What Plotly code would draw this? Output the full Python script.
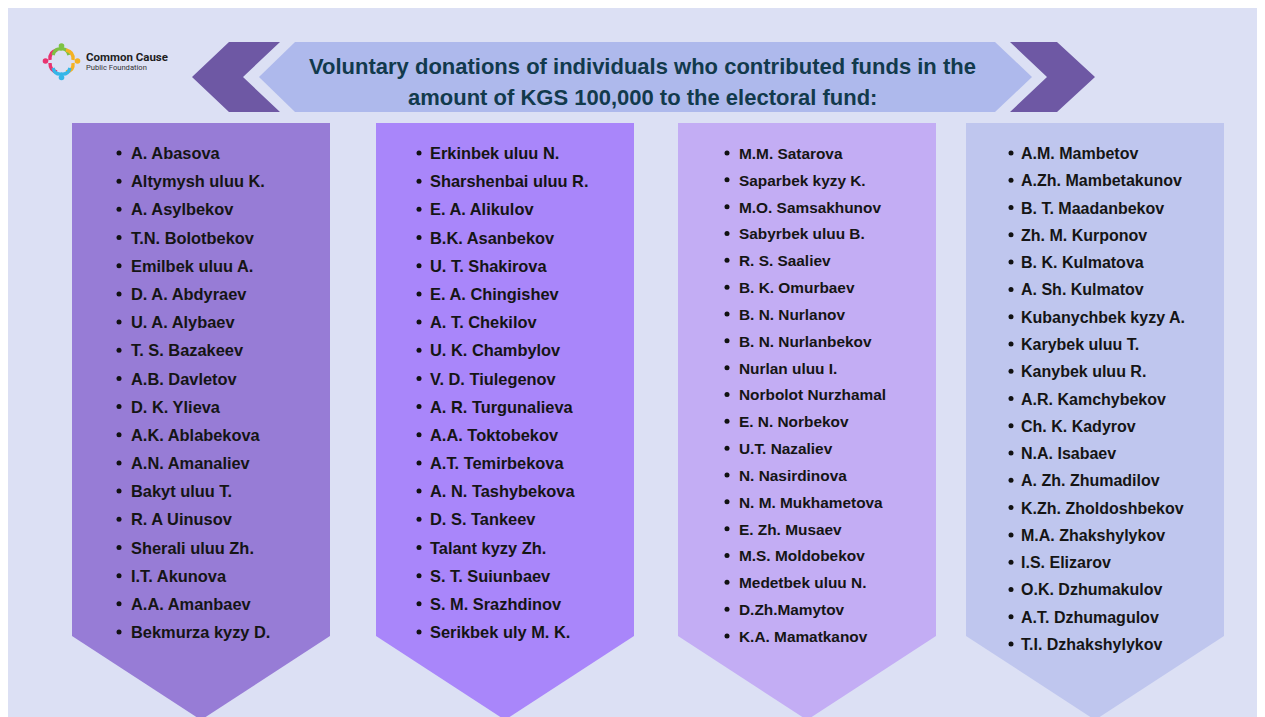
import plotly.graph_objects as go

W, H = 1265, 717
OFF = 8  # page body margin in the browser

title_lines = ["Voluntary donations of individuals who contributed funds in the",
               "amount of KGS 100,000 to the electoral fund:"]

col1 = ["A. Abasova", "Altymysh uluu K.", "A. Asylbekov", "T.N. Bolotbekov", "Emilbek uluu A.",
        "D. A. Abdyraev", "U. A. Alybaev", "T. S. Bazakeev", "A.B. Davletov", "D. K. Ylieva",
        "A.K. Ablabekova", "A.N. Amanaliev", "Bakyt uluu T.", "R. A Uinusov", "Sherali uluu Zh.",
        "I.T. Akunova", "A.A. Amanbaev", "Bekmurza kyzy D."]
col2 = ["Erkinbek uluu N.", "Sharshenbai uluu R.", "E. A. Alikulov", "B.K. Asanbekov", "U. T. Shakirova",
        "E. A. Chingishev", "A. T. Chekilov", "U. K. Chambylov", "V. D. Tiulegenov", "A. R. Turgunalieva",
        "A.A. Toktobekov", "A.T. Temirbekova", "A. N. Tashybekova", "D. S. Tankeev", "Talant kyzy Zh.",
        "S. T. Suiunbaev", "S. M. Srazhdinov", "Serikbek uly M. K."]
col3 = ["M.M. Satarova", "Saparbek kyzy K.", "M.O. Samsakhunov", "Sabyrbek uluu B.", "R. S. Saaliev",
        "B. K. Omurbaev", "B. N. Nurlanov", "B. N. Nurlanbekov", "Nurlan uluu I.", "Norbolot Nurzhamal",
        "E. N. Norbekov", "U.T. Nazaliev", "N. Nasirdinova", "N. M. Mukhametova", "E. Zh. Musaev",
        "M.S. Moldobekov", "Medetbek uluu N.", "D.Zh.Mamytov", "K.A. Mamatkanov"]
col4 = ["A.M. Mambetov", "A.Zh. Mambetakunov", "B. T. Maadanbekov", "Zh. M. Kurponov", "B. K. Kulmatova",
        "A. Sh. Kulmatov", "Kubanychbek kyzy A.", "Karybek uluu T.", "Kanybek uluu R.", "A.R. Kamchybekov",
        "Ch. K. Kadyrov", "N.A. Isabaev", "A. Zh. Zhumadilov", "K.Zh. Zholdoshbekov", "M.A. Zhakshylykov",
        "I.S. Elizarov", "O.K. Dzhumakulov", "A.T. Dzhumagulov", "T.I. Dzhakshylykov"]

columns = [col1, col2, col3, col4]

# layout geometry (pixels)
col_x = [(72, 330), (376, 634), (678, 936), (966, 1224)]
col_colors = ["#977CD6", "#A986FA", "#C3ADF4", "#BFC6EE"]
bullet_x = [119, 419, 727, 1011]
text_x = [131, 430, 739, 1021]
first_y = 155
last_y = [634, 634, 638, 646]
font_sizes = [16.4, 16.4, 15.4, 16]

BG = "#DCE0F4"
DARK = "#6E58A4"
BANNER = "#AEB9EC"

shapes = []
def poly(pts, color):
    d = "M " + " L ".join(f"{x},{y}" for x, y in pts) + " Z"
    return dict(type="path", path=d, fillcolor=color, line=dict(width=0),
                xref="x", yref="y", layer="below")

# background panel
shapes.append(dict(type="rect", x0=6, x1=1260, y0=8, y1=H + 20, fillcolor=BG,
                   line=dict(width=0), xref="x", yref="y", layer="below"))
# left chevron
shapes.append(poly([(229, 42), (280, 42), (243, 77), (280, 112), (229, 112), (192, 77)], DARK))
# title banner
shapes.append(poly([(295, 42), (995, 42), (1032, 77), (995, 112), (295, 112), (259, 77)], BANNER))
# right chevron
shapes.append(poly([(1010, 42), (1057, 42), (1095, 77), (1057, 112), (1010, 112), (1047, 77)], DARK))
# columns
for (x0, x1), c in zip(col_x, col_colors):
    cx = (x0 + x1) / 2
    shapes.append(poly([(x0, 123), (x1, 123), (x1, 636), (cx, 720), (x0, 636)], c))

# logo
arc_defs = [("#E8336F", "M 57,50 Q 49,52 50,60 M 50,63 Q 50,71 57,72"),
            ("#7DC242", "M 53,55 Q 55,48 61,49 Q 67,48 69,55"),
            ("#F4B223", "M 66,50 Q 74,52 73,60 M 73,63 Q 74,71 66,72"),
            ("#35B6E8", "M 53,68 Q 55,75 61.5,74 Q 68,75 70,68")]
for col, p in arc_defs:
    shapes.append(dict(type="path", path=p, line=dict(color=col, width=3.4),
                       xref="x", yref="y"))
for col, (x, y) in [("#7DC242", (61.5, 46)), ("#E8336F", (45.5, 61)),
                    ("#F4B223", (77.5, 61)), ("#35B6E8", (61.5, 77.5))]:
    shapes.append(dict(type="circle", x0=x - 2.8, x1=x + 2.8, y0=y - 2.8, y1=y + 2.8,
                       fillcolor=col, line=dict(width=0), xref="x", yref="y"))

fig = go.Figure()

for i, names in enumerate(columns):
    n = len(names)
    step = (last_y[i] - first_y) / (n - 1)
    ys = [first_y + k * step for k in range(n)]
    fig.add_trace(go.Scatter(x=[bullet_x[i]] * n, y=[v - 2 for v in ys], mode="markers",
                             marker=dict(size=5, color="#111111", line=dict(width=0)),
                             hoverinfo="skip", showlegend=False))
    fig.add_trace(go.Scatter(x=[text_x[i]] * n, y=ys, mode="text", text=names,
                             texttemplate="<b>%{text}</b>",
                             textposition="middle right",
                             textfont=dict(family="Liberation Sans, Arial, sans-serif",
                                           size=font_sizes[i], color="#151515"),
                             hoverinfo="skip", showlegend=False, cliponaxis=False))

TF = "Liberation Sans, Arial, sans-serif"
annotations = [
    dict(x=642, y=66, text=f"<b>{title_lines[0]}</b>", showarrow=False,
         font=dict(family=TF, size=22, color="#123A4C"),
         xref="x", yref="y", xanchor="center", yanchor="middle"),
    dict(x=642, y=97, text=f"<b>{title_lines[1]}</b>", showarrow=False,
         font=dict(family=TF, size=22, color="#123A4C"),
         xref="x", yref="y", xanchor="center", yanchor="middle"),
    dict(x=84, y=57, text="<b>Common Cause</b>", showarrow=False,
         font=dict(family="Roboto, Liberation Sans, sans-serif", size=11.5, color="#1E1E1E"),
         xref="x", yref="y", xanchor="left", yanchor="middle"),
    dict(x=84, y=67.5, text="Public Foundation", showarrow=False,
         font=dict(family="Roboto, Liberation Sans, sans-serif", size=7.6, color="#333333"),
         xref="x", yref="y", xanchor="left", yanchor="middle"),
]

fig.update_layout(
    width=W - OFF, height=H, margin=dict(l=0, r=0, t=0, b=0),
    paper_bgcolor="#FFFFFF", plot_bgcolor="rgba(0,0,0,0)",
    xaxis=dict(range=[OFF, W], visible=False, fixedrange=True),
    yaxis=dict(range=[H + OFF, OFF], visible=False, fixedrange=True),
    shapes=shapes, annotations=annotations,
)

fig.write_html("out.html")
